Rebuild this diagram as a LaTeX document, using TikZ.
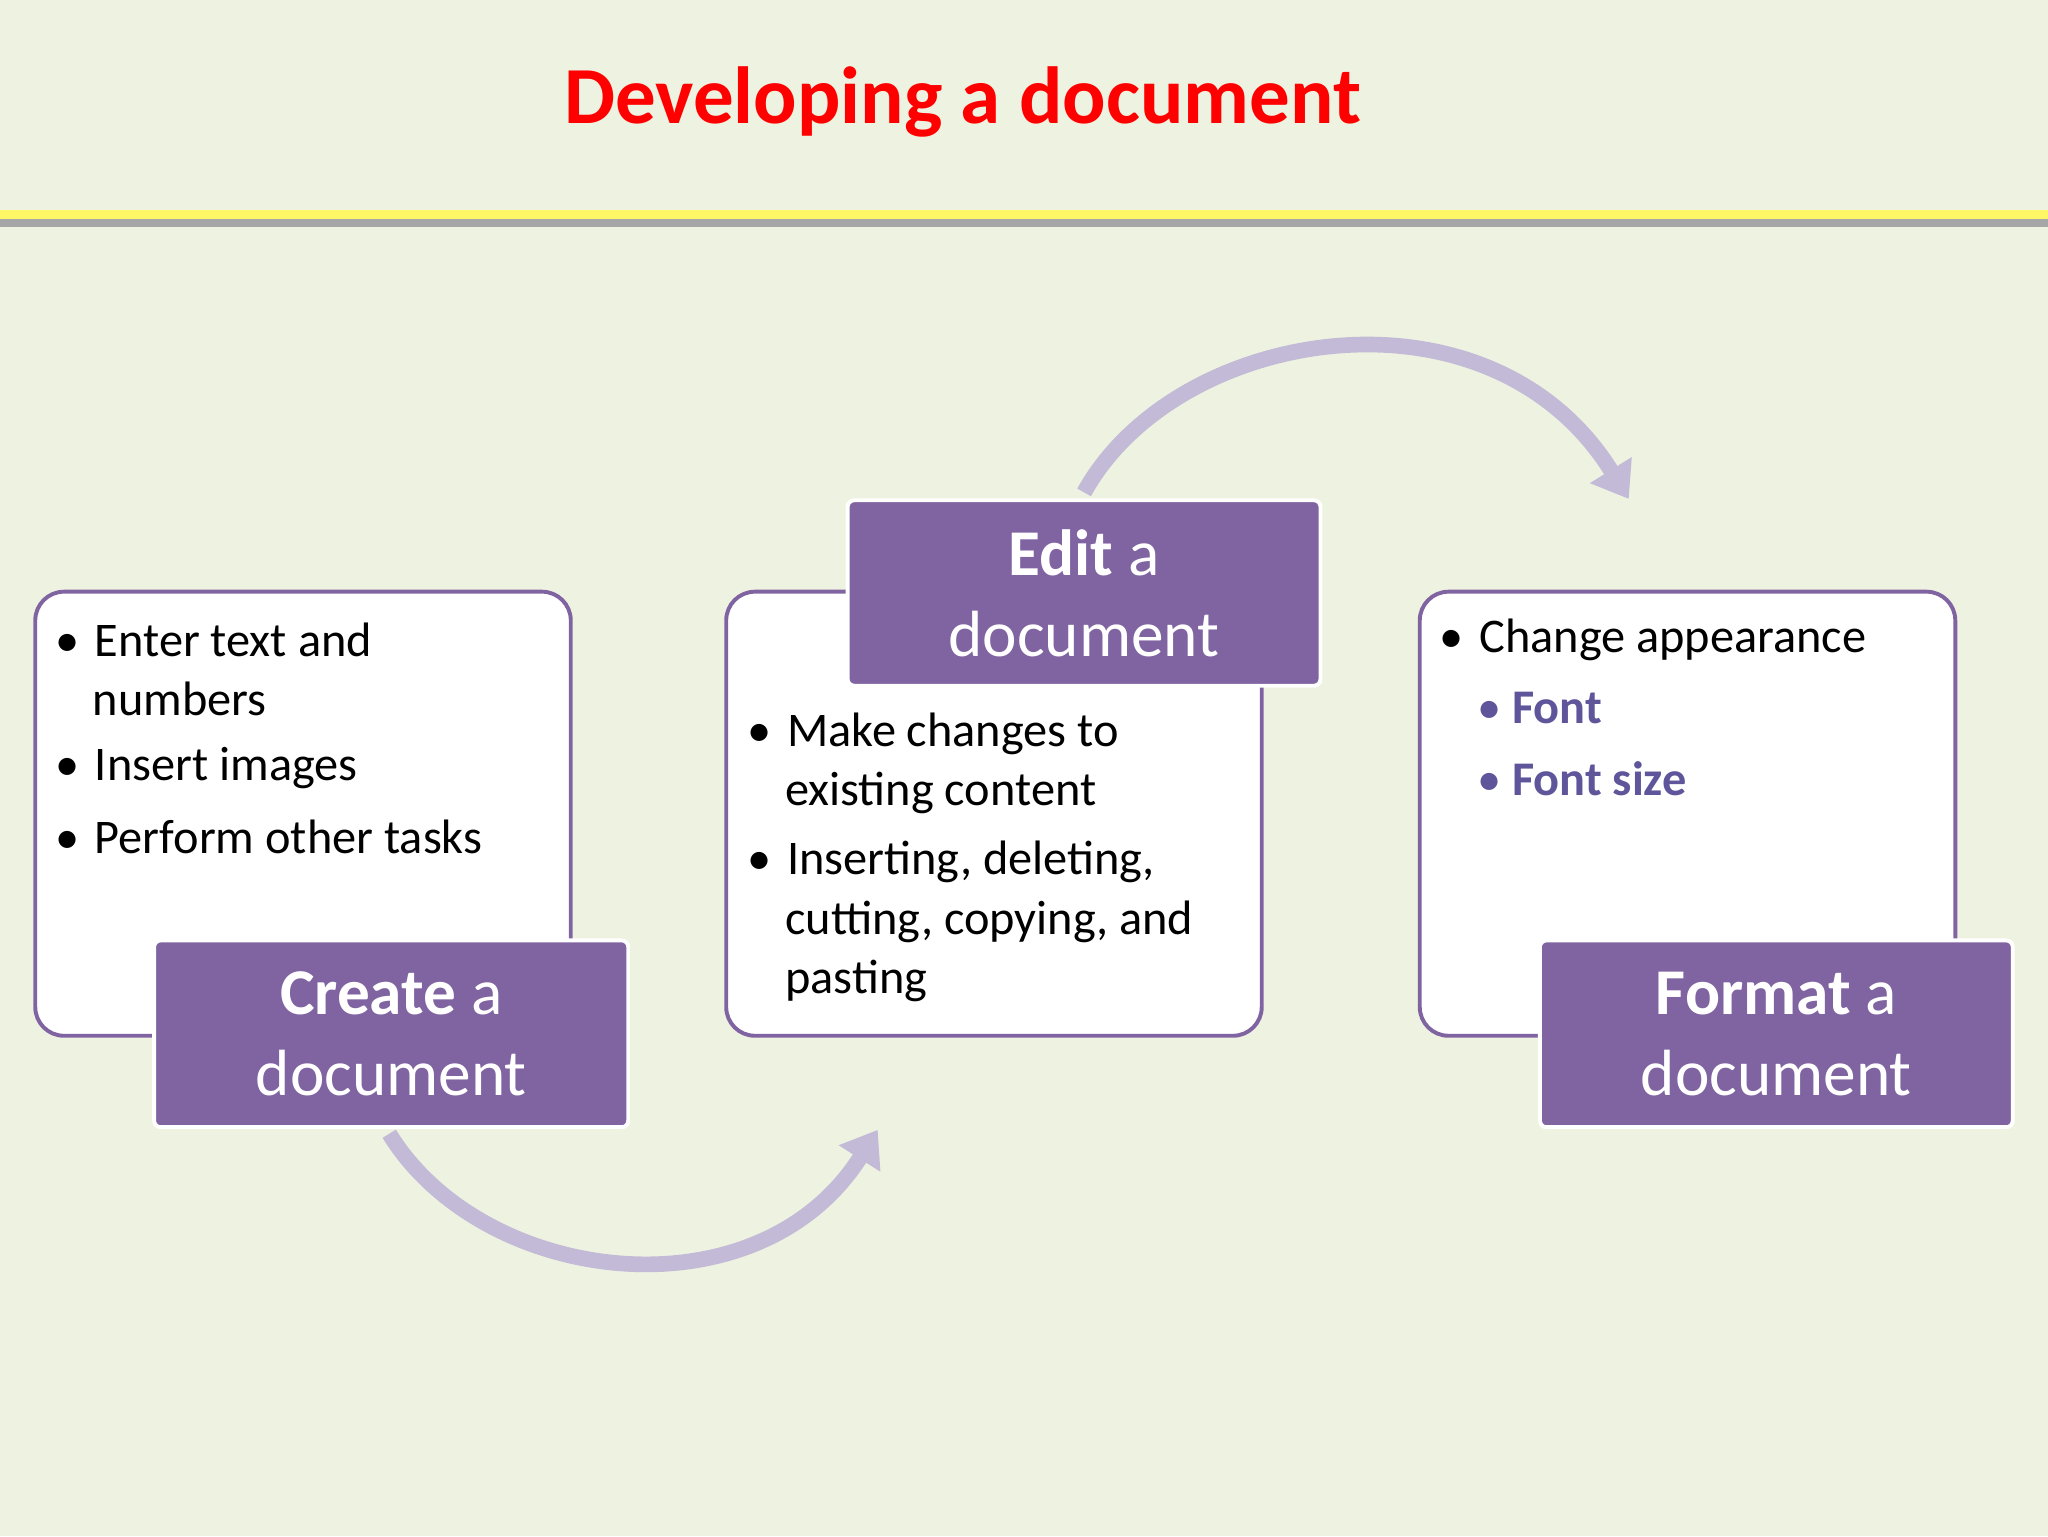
\documentclass[tikz,border=0pt]{standalone}
\usepackage{fontspec}
\setmainfont{Carlito}
\usetikzlibrary{arrows.meta}
\definecolor{bg}{HTML}{EEF2E1}
\definecolor{pur}{HTML}{8064A2}
\definecolor{lpur}{HTML}{C2BAD6}
\definecolor{subp}{HTML}{5E559A}
\begin{document}
\begin{tikzpicture}[x=1pt,y=-1pt,
  box/.style={draw=pur,line width=3pt,fill=white,rounded corners=22pt},
  lab/.style={draw=white,line width=3pt,fill=pur,rounded corners=5pt,text=white,align=center,font=\fontsize{50}{62}\selectfont},
  txt/.style={anchor=west,font=\fontsize{37}{45}\selectfont,inner sep=0pt},
  arr/.style={draw=lpur,line width=12pt,-{Triangle[length=26pt,width=36pt]}}]
\fill[bg] (0,0) rectangle (1568,1176);
\node[text=red,font=\bfseries\fontsize{62}{70}\selectfont] (title) at (737,78) {Developing a document};
\fill[gray!70] (0,168) rectangle (1568,174);
\fill[yellow!60!white] (0,161) rectangle (1568,168);
% boxes
\draw[box] (27,453) rectangle (437,793);
\draw[box] (556,453) rectangle (966,793);
\draw[box] (1087,453) rectangle (1497,793);
\node[lab,minimum width=363pt,minimum height=143pt] (create) at (299.5,791.5) {\textbf{Create} a\\document};
\node[lab,minimum width=362pt,minimum height=142pt] (edit) at (830,454) {\textbf{Edit} a\\document};
\node[lab,minimum width=362pt,minimum height=143pt] (format) at (1360,791.5) {\textbf{Format} a\\document};
% left text
\node[txt] (l1) at (42,490) {•\hspace{12pt}Enter text and};
\node[txt] (l1b) at (71,535) {numbers};
\node[txt] (l2) at (42,588) {•\hspace{12pt}Insert images};
\node[txt] (l3) at (42,641) {•\hspace{12pt}Perform other tasks};
% middle text
\node[txt] (m1) at (572,562) {•\hspace{12pt}Make changes to};
\node[txt] (m1b) at (601,607) {existing content};
\node[txt] (m2) at (572,660) {•\hspace{12pt}Inserting, deleting,};
\node[txt] (m2b) at (601,706) {cutting, copying, and};
\node[txt] (m2c) at (601,751) {pasting};
% right text
\node[txt] (r1) at (1102,490) {•\hspace{12pt}Change appearance};
\node[txt,text=subp] (r2) at (1131,542) {•\hspace{8pt}\textbf{Font}};
\node[txt,text=subp] (r3) at (1131,596) {•\hspace{8pt}\textbf{Font size}};
% arrows
\coordinate (a1) at (298,868);
\coordinate (a2) at (672,865);
\coordinate (b1) at (830,377);
\coordinate (b2) at (1247,382);
\draw[arr] (a1) .. controls (370,985) and (580,1010) .. (a2);
\draw[arr] (b1) .. controls (900,250) and (1140,210) .. (b2);
\end{tikzpicture}
\end{document}
